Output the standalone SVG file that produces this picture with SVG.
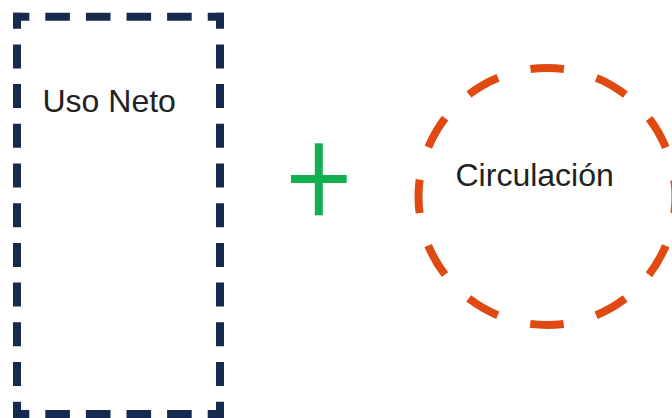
<svg xmlns="http://www.w3.org/2000/svg" width="672" height="418" viewBox="0 0 672 418">
  <style>
    .lbl { font-family: "Liberation Sans", Arial, sans-serif; font-size: 32px; fill: #222222; }
    .navy { stroke: #162a4f; stroke-width: 8; fill: none; stroke-linecap: butt; }
    .h { stroke-dasharray: 24.6 16; stroke-dashoffset: 8.3; }
    .v { stroke-dasharray: 24 15.7; stroke-dashoffset: 8; }
    .ring { stroke: #e04a12; stroke-width: 8; fill: none; stroke-dasharray: 33.64 33.64; stroke-dashoffset: 16.82; }
    .plus { stroke: #13b04f; stroke-width: 8; fill: none; }
  </style>
  <rect width="672" height="418" fill="#ffffff"/>
  <g id="connectors"></g>
  <g id="node-uso-neto">
    <path class="navy h" d="M13 16.7 H224"/>
    <path class="navy h" d="M13 414 H224"/>
    <path class="navy v" d="M17 12.7 V418"/>
    <path class="navy v" d="M220 12.7 V418"/>
    <text class="lbl" x="42.5" y="112">Uso Neto</text>
  </g>
  <g id="node-plus">
    <line class="plus" x1="291" y1="179" x2="346.7" y2="179"/>
    <line class="plus" x1="318.8" y1="143.3" x2="318.8" y2="215.3"/>
  </g>
  <g id="node-circulacion">
    <circle class="ring" cx="547" cy="196.5" r="128.5"/>
    <text class="lbl" x="455.5" y="185.5">Circulación</text>
  </g>
</svg>
